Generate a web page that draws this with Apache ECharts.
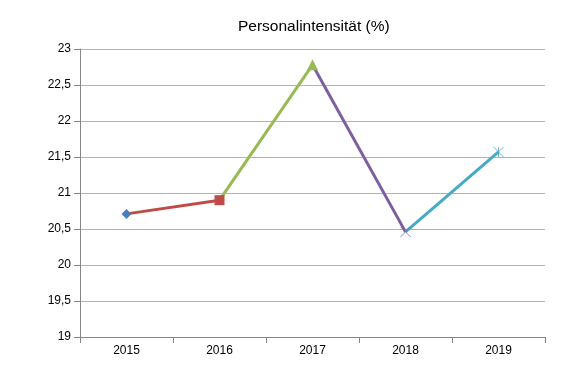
<!DOCTYPE html>
<html><head><meta charset="utf-8">
<script src="https://cdn.jsdelivr.net/npm/echarts@6/dist/echarts.min.js"></script>
<style>html,body{margin:0;padding:0;background:#fff}#c{width:585px;height:384px}</style>
</head><body><div id="c"></div>
<script>
var categories = ['2015','2016','2017','2018','2019'];
var values = [20.71, 20.9, 22.78, 20.46, 21.57];
var yTicks = [19, 19.5, 20, 20.5, 21, 21.5, 22, 22.5, 23];
var pointColors = ['#4a7ebb','#be4b48','#98b954','#7d5fa0','#46aac5'];
var symbols = ['diamond','rect','triangle','path://M0,0L10,10M10,0L0,10','path://M0,0L10,10M10,0L0,10M5,0L5,10'];
var symbolSizes = [10, 10, 11, 10, 10];

var series = [];
for (var i = 1; i < values.length; i++) {
  var d = values.map(function(){return null;});
  d[i-1] = values[i-1]; d[i] = values[i];
  series.push({type:'line', data:d, showSymbol:false, symbol:'none', silent:true,
    lineStyle:{color:pointColors[i], width:3}, z:2, animation:false});
}
for (var j = 0; j < values.length; j++) {
  var d2 = values.map(function(){return null;});
  d2[j] = values[j];
  var stroke = j >= 3;
  series.push({type:'scatter', data:d2, symbol:symbols[j], symbolSize:symbolSizes[j], z:5, animation:false,
    itemStyle: stroke ? {color:'none', borderColor:pointColors[j], borderWidth:1} : {color:pointColors[j], opacity:1}});
}

var chart = echarts.init(document.getElementById('c'));
chart.setOption({
  animation:false,
  title:{text:'Personalintensität (%)', left:233, top:14,
    textStyle:{fontFamily:'Liberation Sans, Arial', fontSize:15.5, fontWeight:'normal', color:'#000'}},
  grid:{left:80, right:40, top:49, bottom:47},
  xAxis:{type:'category', data:categories, boundaryGap:true,
    axisLine:{lineStyle:{color:'#868686', width:1}},
    axisTick:{show:true, alignWithLabel:false, length:6, lineStyle:{color:'#868686'}},
    axisLabel:{color:'#000', fontFamily:'Liberation Sans, Arial', fontSize:12, margin:8},
    splitLine:{show:false}},
  yAxis:{type:'value', min:yTicks[0], max:yTicks[yTicks.length-1], interval:0.5,
    axisLine:{show:true, lineStyle:{color:'#868686'}},
    axisTick:{show:true, length:6, lineStyle:{color:'#868686'}},
    axisLabel:{color:'#000', fontFamily:'Liberation Sans, Arial', fontSize:12, margin:9,
      formatter:function(v){return String(v).replace('.', ',');}},
    splitLine:{show:true, lineStyle:{color:'#b3b3b3', width:1}}},
  series:series
});
</script></body></html>
